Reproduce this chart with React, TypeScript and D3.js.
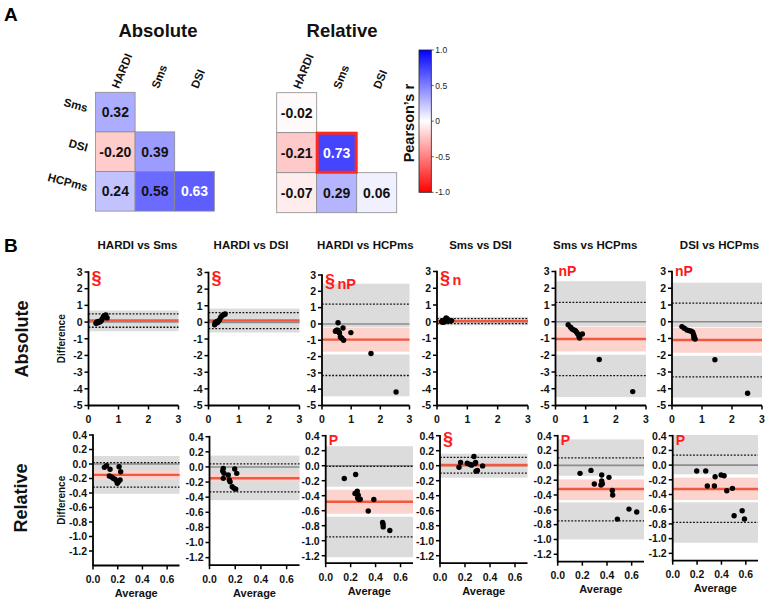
import React from "react";
import * as d3 from "d3";

// ---------- DATA ----------
const heatCols = ["HARDI", "Sms", "DSI"];
const heatRows = ["Sms", "DSI", "HCPms"];
const absoluteR = [[0.32], [-0.2, 0.39], [0.24, 0.58, 0.63]];
const relativeR = [[-0.02], [-0.21, 0.73], [-0.07, 0.29, 0.06]];
const colorbarTicks = [1.0, 0.5, 0, -0.5, -1.0];
const colorbarLabels = ["1.0", "0.5", "0", "-0.5", "-1.0"];

const comparisons = ["HARDI vs Sms", "HARDI vs DSI", "HARDI vs HCPms", "Sms vs DSI", "Sms vs HCPms", "DSI vs HCPms"];

const absTicksY = [3, 2, 1, 0, -1, -2, -3, -4, -5];
const absTicksX = [0, 1, 2, 3];
const relTicksY = [0.4, 0.2, 0.0, -0.2, -0.4, -0.6, -0.8, -1.0, -1.2];
const relTicksX = [0, 0.2, 0.4, 0.6];

// Absolute row
const absBias = [0.09, 0.11, -0.96, 0.04, -1.03, -1.09];
const absUpper = [0.49, 0.59, 1.22, 0.19, 1.16, 1.11];
const absLower = [-0.31, -0.37, -3.16, -0.11, -3.22, -3.29];
const absGrey = [
  [[-0.55, 0.69]],
  [[-0.61, 0.83]],
  [[-0.19, 2.47], [-4.44, -1.87]],
  [[-0.21, 0.29]],
  [[-0.27, 2.42], [-4.5, -1.97]],
  [[-0.32, 2.33], [-4.52, -2.03]],
];
const absPink = [[0.02, 0.16], [0.03, 0.19], [-1.7, -0.22], [-0.01, 0.09], [-1.77, -0.3], [-1.85, -0.36]];
const absNotes = [["§"], ["§"], ["§", "nP"], ["§", "n"], ["nP"], ["nP"]];
const absPoints = [
  [[0.25, -0.07], [0.28, 0.0], [0.31, -0.04], [0.34, 0.04], [0.37, 0.0], [0.4, 0.03], [0.43, 0.1], [0.46, 0.2], [0.5, 0.33], [0.55, 0.4], [0.58, 0.43], [0.62, 0.25]],
  [[0.2, -0.15], [0.22, 0.0], [0.25, -0.06], [0.28, 0.05], [0.3, 0.0], [0.33, 0.08], [0.36, 0.15], [0.4, 0.3], [0.44, 0.38], [0.48, 0.45], [0.52, 0.48], [0.55, 0.5]],
  [[0.55, 0.07], [0.46, -0.45], [0.5, -0.38], [0.54, -0.39], [0.58, -0.5], [0.6, -0.56], [0.72, -0.25], [0.63, -0.8], [0.68, -0.88], [0.74, -1.0], [0.99, -0.53], [1.68, -1.81], [2.54, -4.17]],
  [[0.15, 0.0], [0.18, 0.05], [0.2, -0.03], [0.23, 0.08], [0.26, 0.0], [0.28, 0.12], [0.3, 0.22], [0.33, 0.18], [0.36, 0.05], [0.4, 0.1], [0.44, 0.04], [0.48, 0.07]],
  [[0.42, -0.18], [0.5, -0.33], [0.55, -0.43], [0.61, -0.49], [0.66, -0.53], [0.7, -0.63], [0.74, -0.73], [0.78, -0.89], [0.8, -0.97], [0.89, -0.73], [1.45, -2.25], [2.56, -4.17]],
  [[0.33, -0.29], [0.41, -0.39], [0.5, -0.49], [0.58, -0.53], [0.64, -0.57], [0.69, -0.63], [0.72, -0.77], [0.74, -0.89], [0.77, -1.03], [0.73, -0.97], [1.43, -2.27], [2.52, -4.27]],
];

// Relative row
const relBias = [-0.15, -0.15, -0.48, 0.01, -0.32, -0.325];
const relUpper = [0.02, 0.04, -0.01, 0.11, 0.1, 0.137];
const relLower = [-0.32, -0.33, -0.95, -0.1, -0.75, -0.78];
const relGrey = [
  [[-0.41, 0.11]],
  [[-0.44, 0.15]],
  [[-0.28, 0.26], [-1.22, -0.68]],
  [[-0.16, 0.16]],
  [[-0.14, 0.35], [-1.0, -0.5]],
  [[-0.125, 0.41], [-1.056, -0.506]],
];
const relPink = [[-0.22, -0.09], [-0.2, -0.09], [-0.64, -0.32], [-0.02, 0.04], [-0.47, -0.19], [-0.475, -0.17]];
const relNotes = [[], [], ["P"], ["§"], ["P"], ["P"]];
const relPoints = [
  [[0.092, -0.046], [0.11, -0.023], [0.138, -0.073], [0.132, -0.166], [0.151, -0.179], [0.164, -0.198], [0.178, -0.211], [0.192, -0.234], [0.197, -0.266], [0.205, -0.244], [0.219, -0.221], [0.211, -0.037], [0.224, -0.106]],
  [[0.103, -0.054], [0.107, -0.019], [0.113, -0.085], [0.107, -0.151], [0.146, -0.107], [0.154, -0.173], [0.16, -0.196], [0.177, -0.262], [0.191, -0.283], [0.204, -0.293], [0.196, -0.028], [0.212, -0.085]],
  [[0.149, -0.171], [0.24, -0.118], [0.235, -0.371], [0.253, -0.34], [0.256, -0.429], [0.266, -0.447], [0.277, -0.447], [0.261, -0.393], [0.386, -0.451], [0.341, -0.603], [0.456, -0.757], [0.461, -0.816], [0.514, -0.864], [0.46, -0.78]],
  [[0.152, -0.02], [0.165, 0.043], [0.218, 0.033], [0.24, 0.016], [0.272, 0.122], [0.28, 0.029], [0.285, 0.043], [0.288, -0.073], [0.299, -0.064], [0.341, -0.003], [0.253, 0.007]],
  [[0.181, -0.108], [0.27, -0.068], [0.297, -0.252], [0.357, -0.131], [0.357, -0.212], [0.351, -0.266], [0.362, -0.248], [0.416, -0.162], [0.443, -0.338], [0.446, -0.401], [0.484, -0.725], [0.578, -0.59], [0.641, -0.63]],
  [[0.197, -0.08], [0.271, -0.08], [0.284, -0.284], [0.342, -0.284], [0.348, -0.158], [0.397, -0.135], [0.422, -0.144], [0.444, -0.348], [0.49, -0.316], [0.504, -0.688], [0.57, -0.62], [0.589, -0.733]],
];

// ---------- LAYOUT ----------
const FONT = "'Liberation Sans', Arial, sans-serif";
const titleX = [137.5, 251, 365.3, 480.5, 595.2, 719.5];
const absLayout = [
  { x0: 88.5, x1: 178.5, yTop: 272, yBot: 405.5 },
  { x0: 208.5, x1: 299.5, yTop: 272.5, yBot: 405.5 },
  { x0: 322, x1: 409.5, yTop: 275, yBot: 405.5 },
  { x0: 437, x1: 528, yTop: 271.5, yBot: 405.5 },
  { x0: 555.5, x1: 646, yTop: 271.5, yBot: 405.5 },
  { x0: 672, x1: 762, yTop: 271.5, yBot: 405.5 },
];
const relLayout = [
  { x0: 93, x1: 179.5, yTop: 435, yBot: 565.5, ymin: -1.4 },
  { x0: 209.5, x1: 299.5, yTop: 436.7, yBot: 565.2, ymin: -1.3 },
  { x0: 325.7, x1: 413, yTop: 435.7, yBot: 563.2, ymin: -1.3 },
  { x0: 440, x1: 527.5, yTop: 435.7, yBot: 563.2, ymin: -1.3 },
  { x0: 557.7, x1: 644, yTop: 435.7, yBot: 561.7, ymin: -1.3 },
  { x0: 672.7, x1: 758, yTop: 435.7, yBot: 560.7, ymin: -1.3 },
];
const absNoteBase = [[284], [284], [286.5, 289], [283.5, 284.5], [275.5], [275.5]];
const relNoteBase = [[], [], [444.5], [445], [445], [444.5]];

const heatColor = d3.scaleLinear<string>().domain([-1, 0, 1]).range(["#ff0000", "#ffffff", "#0000ff"]);

function Heatmap({ x0, y0, cell, data, showRows, highlight }: any) {
  return (
    <g>
      {heatCols.map((c, j) => (
        <text
          key={"c" + c}
          transform={`translate(${x0 + (j + 0.5) * cell + 3.5},${y0 - 3}) rotate(-68)`}
          fontFamily={FONT}
          fontSize={11.5}
          fontWeight="bold"
          fill="#111"
        >
          {c}
        </text>
      ))}
      {showRows &&
        heatRows.map((r, i) => (
          <text
            key={"r" + r}
            transform={`translate(${x0 - 9},${y0 + (i + 0.5) * cell + 0}) rotate(15)`}
            textAnchor="end"
            fontFamily={FONT}
            fontSize={11.5}
            fontWeight="bold"
            fill="#111"
          >
            {r}
          </text>
        ))}
      {data.map((row: number[], i: number) =>
        row.map((v: number, j: number) => (
          <g key={i + "-" + j}>
            <rect x={x0 + j * cell} y={y0 + i * cell} width={cell} height={cell} fill={heatColor(v)} stroke="#8a8a8a" strokeWidth={0.8} />
            <text
              x={x0 + (j + 0.5) * cell}
              y={y0 + (i + 0.5) * cell + 5}
              textAnchor="middle"
              fontFamily={FONT}
              fontSize={14}
              fontWeight="bold"
              fill={Math.abs(v) > 0.6 ? "#ffffff" : "#111"}
            >
              {v.toFixed(2)}
            </text>
          </g>
        ))
      )}
      {highlight && (
        <rect
          x={x0 + highlight[1] * cell + 0.5}
          y={y0 + highlight[0] * cell + 0.5}
          width={cell - 1}
          height={cell - 1}
          fill="none"
          stroke="#ff2a1a"
          strokeWidth={3}
        />
      )}
    </g>
  );
}

function BAPanel({ lay, xDomain, yDomain, xTicks, yTicks, fmtX, fmtY, bias, upper, lower, grey, pink, points, notes, noteBase, showYLabel }: any) {
  const x = d3.scaleLinear().domain(xDomain).range([lay.x0, lay.x1]);
  const y = d3.scaleLinear().domain(yDomain).range([lay.yBot, lay.yTop]);
  const xa = lay.x0;
  const xb = lay.x1;
  const noteEls: any[] = [];
  let cx = lay.x0 + 3;
  notes.forEach((n: string, k: number) => {
    const big = n === "§";
    const fs = big ? 18 : notes.length > 1 ? 14.5 : 14;
    noteEls.push(
      <text key={k} x={cx} y={noteBase[k]} fontFamily={FONT} fontSize={fs} fontWeight="bold" fill="#ff1a1a">
        {n}
      </text>
    );
    cx += big ? 12.5 : 0;
  });
  return (
    <g>
      {grey.map((b: number[], k: number) => (
        <rect key={"g" + k} x={xa} y={y(b[1])} width={xb - xa} height={y(b[0]) - y(b[1])} fill="#dcdcdc" />
      ))}
      <rect x={xa} y={y(pink[1])} width={xb - xa} height={y(pink[0]) - y(pink[1])} fill="#fcd3cd" />
      <line x1={xa} x2={xb} y1={y(0)} y2={y(0)} stroke="#8c8c8c" strokeWidth={1.6} />
      <line x1={xa} x2={xb} y1={y(upper)} y2={y(upper)} stroke="#111" strokeWidth={1.3} strokeDasharray="1.8,1.6" />
      <line x1={xa} x2={xb} y1={y(lower)} y2={y(lower)} stroke="#111" strokeWidth={1.3} strokeDasharray="1.8,1.6" />
      <line x1={xa} x2={xb} y1={y(bias)} y2={y(bias)} stroke="#f2583f" strokeWidth={2.4} />
      {points.map((p: number[], k: number) => (
        <circle key={"p" + k} cx={x(p[0])} cy={y(p[1])} r={2.7} fill="#000" />
      ))}
      {/* axes */}
      <line x1={lay.x0} x2={lay.x0} y1={lay.yTop - 0.8} y2={lay.yBot + 0.8} stroke="#000" strokeWidth={1.8} />
      <line x1={lay.x0} x2={lay.x1} y1={lay.yBot} y2={lay.yBot} stroke="#000" strokeWidth={1.8} />
      {yTicks.map((t: number) => (
        <g key={"yt" + t}>
          <line x1={lay.x0 - 4} x2={lay.x0} y1={y(t)} y2={y(t)} stroke="#000" strokeWidth={1.5} />
          <text x={lay.x0 - 6} y={y(t) + 3.8} textAnchor="end" fontFamily={FONT} fontSize={10.5} fontWeight="bold" fill="#111">
            {fmtY(t)}
          </text>
        </g>
      ))}
      {xTicks.map((t: number) => (
        <g key={"xt" + t}>
          <line x1={x(t)} x2={x(t)} y1={lay.yBot} y2={lay.yBot + 4} stroke="#000" strokeWidth={1.5} />
          <text x={x(t)} y={lay.yBot + 17.5} textAnchor="middle" fontFamily={FONT} fontSize={10.5} fontWeight="bold" fill="#111">
            {fmtX(t)}
          </text>
        </g>
      ))}
      {noteEls}
      {showYLabel && (
        <text
          transform={`translate(${64.5},${(lay.yTop + lay.yBot) / 2}) rotate(-90)`}
          textAnchor="middle"
          fontFamily={FONT}
          fontSize={10}
          fontWeight="bold"
          fill="#111"
        >
          Difference
        </text>
      )}
    </g>
  );
}

export default function App() {
  const cbX = 419, cbY = 50, cbW = 12.3, cbH = 142.3;
  const cbScale = d3.scaleLinear().domain([-1, 1]).range([cbY + cbH, cbY]);
  const fmt1 = (t: number) => (Math.abs(t) < 1e-9 ? "0.0" : t.toFixed(1));
  return (
    <div style={{ position: "absolute", left: 0, top: 0, width: 767, height: 603, background: "#fff" }}>
      <svg width={767} height={603} viewBox="0 0 767 603">
        <rect width={767} height={603} fill="#fff" />
        {/* Panel A */}
        <text x={4} y={20.5} fontFamily={FONT} fontSize={19} fontWeight="bold" fill="#000">A</text>
        <text x={158} y={36.5} textAnchor="middle" fontFamily={FONT} fontSize={18.5} fontWeight="bold" fill="#111">Absolute</text>
        <text x={342} y={36.5} textAnchor="middle" fontFamily={FONT} fontSize={18.5} fontWeight="bold" fill="#111">Relative</text>
        <Heatmap x0={95.5} y0={92.3} cell={39.6} data={absoluteR} showRows={true} />
        <Heatmap x0={276.7} y0={92.7} cell={40} data={relativeR} showRows={false} highlight={[1, 1]} />
        <defs>
          <linearGradient id="cbg" x1="0" y1="1" x2="0" y2="0">
            <stop offset="0%" stopColor="#ff0000" />
            <stop offset="50%" stopColor="#ffffff" />
            <stop offset="100%" stopColor="#0000ff" />
          </linearGradient>
        </defs>
        <rect x={cbX} y={cbY} width={cbW} height={cbH} fill="url(#cbg)" stroke="#222" strokeWidth={0.8} />
        {colorbarTicks.map((t, k) => (
          <g key={"cb" + k}>
            <line x1={cbX + cbW} x2={cbX + cbW + 2.5} y1={cbScale(t)} y2={cbScale(t)} stroke="#222" strokeWidth={0.7} />
            <text x={cbX + cbW + 4} y={cbScale(t) + 3} fontFamily={FONT} fontSize={8.5} fill="#222">
              {colorbarLabels[k]}
            </text>
          </g>
        ))}
        <text transform={`translate(413.5,${cbY + cbH / 2 + 2}) rotate(-90)`} textAnchor="middle" fontFamily={FONT} fontSize={14.5} fontWeight="bold" fill="#111">
          Pearson’s r
        </text>

        {/* Panel B */}
        <text x={4} y={252} fontFamily={FONT} fontSize={19} fontWeight="bold" fill="#000">B</text>
        {comparisons.map((c, k) => (
          <text key={"t" + k} x={titleX[k]} y={249} textAnchor="middle" fontFamily={FONT} fontSize={11.5} fontWeight="bold" fill="#111">
            {c}
          </text>
        ))}
        <text transform="translate(28,339) rotate(-90)" textAnchor="middle" fontFamily={FONT} fontSize={18} fontWeight="bold" fill="#111">Absolute</text>
        <text transform="translate(27,498) rotate(-90)" textAnchor="middle" fontFamily={FONT} fontSize={18} fontWeight="bold" fill="#111">Relative</text>

        {comparisons.map((c, k) => (
          <BAPanel
            key={"a" + k}
            lay={absLayout[k]}
            xDomain={[0, 3]}
            yDomain={[-5, 3]}
            xTicks={absTicksX}
            yTicks={absTicksY}
            fmtX={(t: number) => String(t)}
            fmtY={(t: number) => String(t)}
            bias={absBias[k]}
            upper={absUpper[k]}
            lower={absLower[k]}
            grey={absGrey[k]}
            pink={absPink[k]}
            points={absPoints[k]}
            notes={absNotes[k]}
            noteBase={absNoteBase[k]}
            showYLabel={k === 0}
          />
        ))}
        {comparisons.map((c, k) => (
          <g key={"r" + k}>
            <BAPanel
              lay={relLayout[k]}
              xDomain={[0, 0.7]}
              yDomain={[relLayout[k].ymin, 0.4]}
              xTicks={relTicksX}
              yTicks={relTicksY}
              fmtX={fmt1}
              fmtY={fmt1}
              bias={relBias[k]}
              upper={relUpper[k]}
              lower={relLower[k]}
              grey={relGrey[k]}
              pink={relPink[k]}
              points={relPoints[k]}
              notes={relNotes[k]}
              noteBase={relNoteBase[k]}
              showYLabel={k === 0}
            />
            <text
              x={(relLayout[k].x0 + relLayout[k].x1) / 2}
              y={relLayout[k].yBot + 31.5}
              textAnchor="middle"
              fontFamily={FONT}
              fontSize={11}
              fontWeight="bold"
              fill="#111"
            >
              Average
            </text>
          </g>
        ))}
      </svg>
    </div>
  );
}
